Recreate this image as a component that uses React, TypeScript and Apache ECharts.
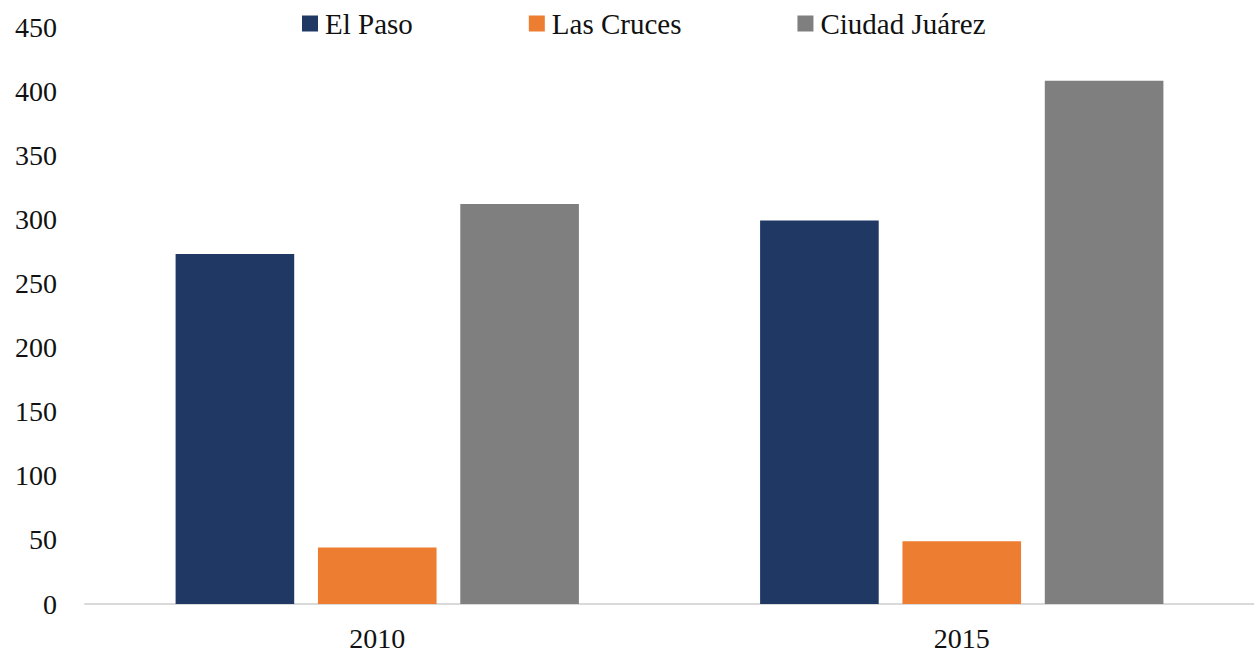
import React, { useEffect, useRef } from "react";
import * as echarts from "echarts";

const categories = ["2010", "2015"];
const elPaso = [273, 299];
const lasCruces = [44, 49];
const ciudadJuarez = [312, 408];
const seriesNames = ["El Paso", "Las Cruces", "Ciudad Juárez"];
const colors = ["#203864", "#ED7D31", "#7F7F7F"];

const FONT = "Times New Roman, Liberation Serif, serif";

export default function App() {
  const ref = useRef<HTMLDivElement>(null);
  useEffect(() => {
    if (!ref.current) return;
    const chart = echarts.init(ref.current, undefined, { renderer: "svg" });
    const data = [elPaso, lasCruces, ciudadJuarez];
    chart.setOption({
      animation: false,
      color: colors,
      textStyle: { fontFamily: FONT },
      legend: {
        top: 4,
        left: 297,
        itemWidth: 16,
        itemHeight: 16,
        itemGap: 116,
        icon: "rect",
        textStyle: { fontFamily: FONT, fontSize: 29, color: "#111", padding: [0, 0, 0, 2] },
        data: seriesNames,
      },
      grid: { left: 85, right: 0, top: 27, bottom: 56, containLabel: false },
      xAxis: {
        type: "category",
        data: categories,
        axisLine: { show: true, lineStyle: { color: "#D9D9D9", width: 2 } },
        axisTick: { show: false },
        axisLabel: { fontFamily: FONT, fontSize: 28, color: "#111", margin: 20 },
      },
      yAxis: {
        type: "value",
        min: 0,
        max: 450,
        interval: 50,
        splitLine: { show: false },
        axisLine: { show: false },
        axisTick: { show: false },
        axisLabel: { fontFamily: FONT, fontSize: 28, color: "#111", margin: 28, align: "right" },
      },
      series: seriesNames.map((name, i) => ({
        name,
        type: "bar",
        data: data[i],
        barGap: "20%",
        barCategoryGap: "31%",
        itemStyle: { color: colors[i] },
      })),
    });
    return () => chart.dispose();
  }, []);
  return <div ref={ref} style={{ width: 1254, height: 660, position: "absolute", left: 0, top: 0 }} />;
}
